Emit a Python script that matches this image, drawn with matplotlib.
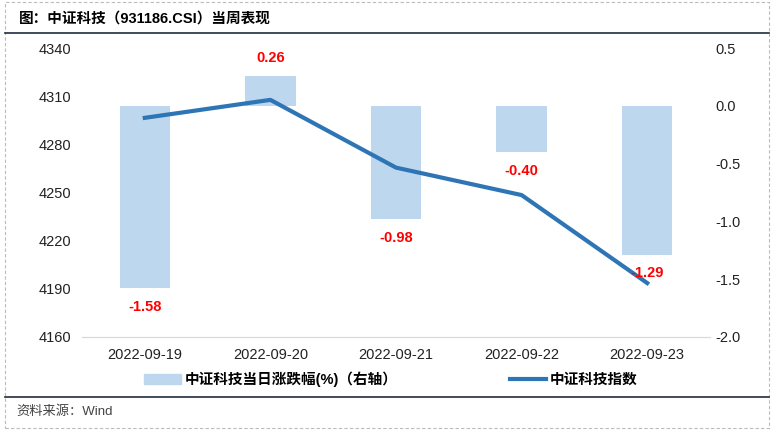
import matplotlib
matplotlib.use('Agg')
import matplotlib.pyplot as plt
from matplotlib.patches import Patch, Rectangle
from matplotlib.lines import Line2D

plt.rcParams['font.family'] = ['Liberation Sans', 'Noto Sans CJK SC', 'DejaVu Sans']

dates = ['2022-09-19', '2022-09-20', '2022-09-21', '2022-09-22', '2022-09-23']
pct_change = [-1.58, 0.26, -0.98, -0.40, -1.29]
index_close = [4296.5, 4307.7, 4265.5, 4248.4, 4193.6]

bar_color = '#BDD7EE'
line_color = '#2E75B6'

fig = plt.figure(figsize=(7.74, 4.30), dpi=100)

# frame decorations
fig.patches.append(Rectangle((0.006, 0.005), 0.988, 0.99, transform=fig.transFigure,
                             fill=False, edgecolor='#BBBBBB', linestyle=(0, (3, 2)), lw=0.8))
fig.add_artist(Line2D([0.006, 0.994], [1 - 33 / 430, 1 - 33 / 430], color='#1F2D3D', lw=1.2))
fig.add_artist(Line2D([0.006, 0.994], [1 - 397 / 430, 1 - 397 / 430], color='#1F2D3D', lw=1.2))
fig.text(0.024, 1 - 19 / 430, '图：中证科技（931186.CSI）当周表现', fontsize=10.5,
         fontweight='bold', va='center', ha='left')
fig.text(0.021, 1 - 412 / 430, '资料来源：Wind', fontsize=9.5, color='#444444',
         va='center', ha='left')

ax = fig.add_axes([82 / 774, 1 - 337 / 430, 628 / 774, 289 / 430])
ax2 = ax.twinx()

x = list(range(len(dates)))
ax2.bar(x, pct_change, width=0.4, color=bar_color, zorder=1)
ax2.set_ylim(-2.0, 0.5)
ax2.set_yticks([0.5, 0.0, -0.5, -1.0, -1.5, -2.0])
ax2.set_yticklabels(['0.5', '0.0', '-0.5', '-1.0', '-1.5', '-2.0'])

ax.plot(x, index_close, color=line_color, lw=3, zorder=5)
ax.set_ylim(4160, 4340)
ax.set_yticks(range(4160, 4341, 30))
ax.set_xlim(-0.5, len(dates) - 0.5)
ax.set_xticks(x)
ax.set_xticklabels(dates)

# bar value labels sit above the line
for xi, v in zip(x, pct_change):
    off = 0.15 if v > 0 else -0.16
    ax.text(xi, v + off, f'{v:.2f}', color='red', fontweight='bold', fontsize=10.5,
            ha='center', va='center', transform=ax2.transData, zorder=10)

# line on top of bars
ax.set_zorder(ax2.get_zorder() + 1)
ax.patch.set_visible(False)

for a in (ax, ax2):
    for s in ('top', 'left', 'right'):
        a.spines[s].set_visible(False)
    a.spines['bottom'].set_color('#D9D9D9')
    a.tick_params(length=0, labelsize=10.5, colors='#222222')
ax.tick_params(axis='y', pad=8)
ax2.tick_params(axis='y', pad=4)
ax.tick_params(axis='x', pad=8)

handles = [Patch(color=bar_color), Line2D([], [], color=line_color, lw=3)]
labels = ['中证科技当日涨跌幅(%)（右轴）', '中证科技指数']
fig.legend(handles, labels, loc='center', bbox_to_anchor=(0.505, 1 - 379 / 430), ncol=2,
           frameon=False, columnspacing=7.7, handlelength=2.5,
           handletextpad=0.25, prop={'weight': 'bold', 'size': 10.5})

fig.savefig('out.png', dpi=100)
